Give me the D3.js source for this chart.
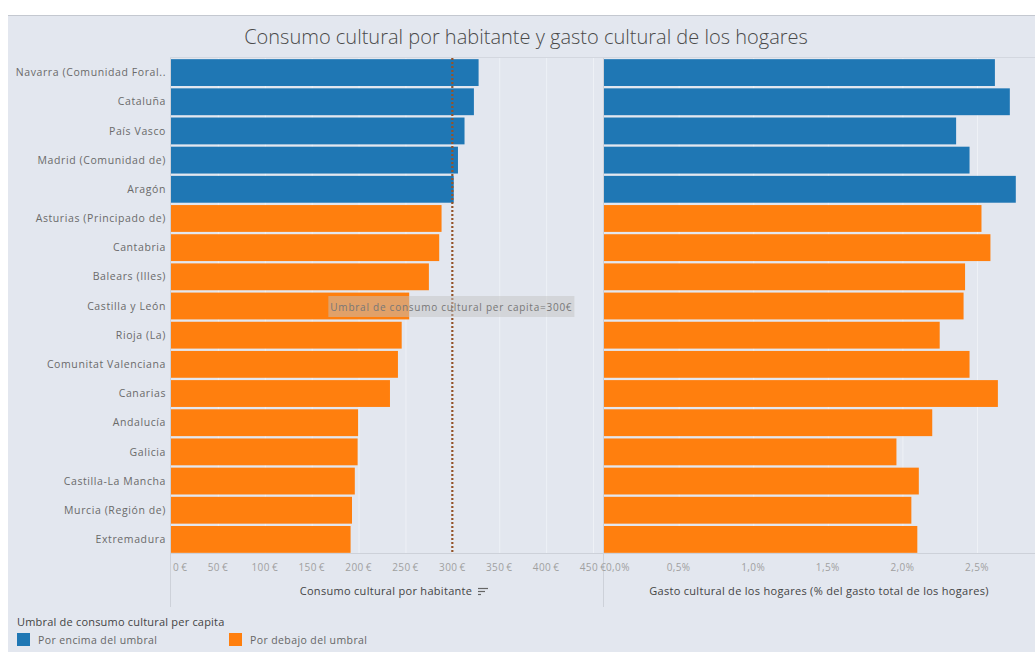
<!DOCTYPE html>
<html><head><meta charset="utf-8">
<script src="https://cdn.jsdelivr.net/npm/d3@7"></script>
<style>
html,body{margin:0;padding:0;background:#fff;}
svg{display:block;font-family:"Open Sans",sans-serif;}
</style></head>
<body><svg id="c" width="1035" height="652"></svg>
<script>
const regions = ["Navarra (Comunidad Foral..","Cataluña","País Vasco","Madrid (Comunidad de)","Aragón","Asturias (Principado de)","Cantabria","Balears (Illes)","Castilla y León","Rioja (La)","Comunitat Valenciana","Canarias","Andalucía","Galicia","Castilla-La Mancha","Murcia (Región de)","Extremadura"];
const consumo = [328, 323, 313, 306, 301.5, 288.5, 286, 275, 254, 246, 242, 233.5, 199.5, 199, 196, 193, 191.5];
const gasto = [2.62, 2.72, 2.36, 2.45, 2.76, 2.53, 2.59, 2.42, 2.41, 2.25, 2.45, 2.64, 2.20, 1.96, 2.11, 2.06, 2.10];
const threshold = 300;
const consumoTicks = [0,50,100,150,200,250,300,350,400,450];
const gastoTicks = [0,0.5,1.0,1.5,2.0,2.5];
const groups = ["Por encima del umbral","Por debajo del umbral"];
const colors = ["#1f77b4","#ff7f0e"];

const svg = d3.select("#c");
svg.append("rect").attr("x",8).attr("y",15).attr("width",1027).attr("height",637).attr("fill","#e3e7ef");
svg.append("line").attr("x1",8).attr("x2",1035).attr("y1",15.5).attr("y2",15.5).attr("stroke","#c4c8d0");

svg.append("text").attr("x",526).attr("y",44).attr("text-anchor","middle")
  .attr("font-size",20).attr("fill","#4a4a4a").attr("font-weight",300)
  .text("Consumo cultural por habitante y gasto cultural de los hogares");

const y = d3.scaleBand().domain(regions).range([58,554]).paddingInner(0.08).paddingOuter(0.04);
const xL = d3.scaleLinear().domain([0,450]).range([171,593]);
const xR = d3.scaleLinear().domain([0,2.5]).range([604,977]);
const color = d => d >= threshold ? colors[0] : colors[1];

// gridlines
svg.append("g").selectAll("line").data(consumoTicks.slice(1)).join("line")
  .attr("x1",d=>xL(d)+0.5).attr("x2",d=>xL(d)+0.5).attr("y1",58).attr("y2",553)
  .attr("stroke","#eef1f6").attr("stroke-width",1);
svg.append("g").selectAll("line").data(gastoTicks.slice(1)).join("line")
  .attr("x1",d=>xR(d)+0.5).attr("x2",d=>xR(d)+0.5).attr("y1",58).attr("y2",553)
  .attr("stroke","#eef1f6").attr("stroke-width",1);

// frame lines
svg.append("line").attr("x1",170).attr("x2",1035).attr("y1",57.5).attr("y2",57.5).attr("stroke","#d3d7df");
svg.append("line").attr("x1",170).attr("x2",1035).attr("y1",553.5).attr("y2",553.5).attr("stroke","#cdd1d9");
svg.append("line").attr("x1",170.5).attr("x2",170.5).attr("y1",58).attr("y2",607).attr("stroke","#cdd1d9");
svg.append("line").attr("x1",603.5).attr("x2",603.5).attr("y1",58).attr("y2",607).attr("stroke","#cdd1d9");

// bars
svg.append("g").selectAll("rect").data(regions).join("rect")
  .attr("x",xL(0)).attr("y",d=>y(d)).attr("height",y.bandwidth())
  .attr("width",(d,i)=>xL(consumo[i])-xL(0)).attr("fill",(d,i)=>color(consumo[i]));
svg.append("g").selectAll("rect").data(regions).join("rect")
  .attr("x",xR(0)).attr("y",d=>y(d)).attr("height",y.bandwidth())
  .attr("width",(d,i)=>xR(gasto[i])-xR(0)).attr("fill",(d,i)=>color(consumo[i]));

// row labels
svg.append("g").selectAll("text").data(regions).join("text")
  .attr("x",166).attr("y",d=>y(d)+y.bandwidth()/2).attr("dy","0.35em")
  .attr("text-anchor","end").attr("font-size",10.5).attr("letter-spacing","0.6px")
  .attr("fill","#6a6a6a").text(d=>d);

// reference line
svg.append("line").attr("x1",xL(threshold)).attr("x2",xL(threshold)).attr("y1",58).attr("y2",553)
  .attr("stroke","#93532a").attr("stroke-width",2.2).attr("stroke-dasharray","2,2");
const refLabel = "Umbral de consumo cultural per capita=300€";
const lg = svg.append("g");
lg.append("rect").attr("x",xL(threshold)-124).attr("y",296).attr("width",246).attr("height",21)
  .attr("fill","#c4c4c4").attr("fill-opacity",0.5);
lg.append("text").attr("x",xL(threshold)-122).attr("y",307).attr("dy","0.35em").attr("text-anchor","start")
  .attr("font-size",10).attr("letter-spacing","0.75px").attr("fill","#777").text(refLabel);

// tick labels
const fmtE = d => d + "\u2009€";
svg.append("g").selectAll("text").data(consumoTicks).join("text")
  .attr("x",(d,i)=> i===0 ? xL(d)+2 : xL(d)).attr("y",571)
  .attr("text-anchor",(d,i)=> i===0 ? "start":"middle").attr("letter-spacing","0.4px")
  .attr("font-size",10).attr("fill","#a0a0a0").text(fmtE);
const fmtP = d => d.toFixed(1).replace(".",",") + "%";
svg.append("g").selectAll("text").data(gastoTicks).join("text")
  .attr("x",(d,i)=> i===0 ? xR(d)+2 : xR(d)).attr("y",571)
  .attr("text-anchor",(d,i)=> i===0 ? "start":"middle").attr("letter-spacing","0.4px")
  .attr("font-size",10).attr("fill","#a0a0a0").text(fmtP);

// axis titles
svg.append("text").attr("x",386).attr("y",595).attr("text-anchor","middle").attr("font-size",11)
  .attr("letter-spacing","0.3px").attr("fill","#444")
  .text("Consumo cultural por habitante");
const si = svg.append("g").attr("stroke","#666").attr("stroke-width",1.2);
si.append("line").attr("x1",478).attr("x2",488).attr("y1",588.5).attr("y2",588.5);
si.append("line").attr("x1",478).attr("x2",485).attr("y1",591.5).attr("y2",591.5);
si.append("line").attr("x1",478).attr("x2",481).attr("y1",594.5).attr("y2",594.5);
svg.append("text").attr("x",819).attr("y",595).attr("text-anchor","middle").attr("font-size",11)
  .attr("letter-spacing","0.3px").attr("fill","#444")
  .text("Gasto cultural de los hogares (% del gasto total de los hogares)");

// legend
svg.append("text").attr("x",17).attr("y",626).attr("font-size",11).attr("letter-spacing","0.2px").attr("fill","#444")
  .text("Umbral de consumo cultural per capita");
const lx = [17, 229];
const leg = svg.append("g").selectAll("g").data(groups).join("g")
  .attr("transform",(d,i)=>`translate(${lx[i]},633)`);
leg.append("rect").attr("width",13).attr("height",13).attr("fill",(d,i)=>colors[i]);
leg.append("text").attr("x",21).attr("y",7).attr("dy","0.35em").attr("font-size",10.5)
  .attr("letter-spacing","0.4px").attr("fill","#666").text(d=>d);
</script>
</body></html>
